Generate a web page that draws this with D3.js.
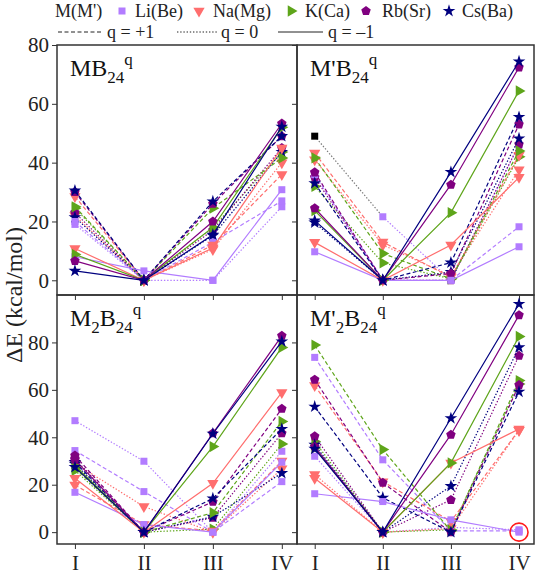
<!DOCTYPE html>
<html>
<head>
<meta charset="utf-8">
<script src="https://cdn.jsdelivr.net/npm/d3@7"></script>
<style>
  body { margin: 0; background: #fff; }
  .axis path, .axis line { stroke: #333; }
  .axis text { font-size: 21px; fill: #222; }
</style>
</head>
<body>
<svg width="538" height="574" font-family="Liberation Serif, Times New Roman, Times, DejaVu Serif, serif"></svg>
<script>
var width = 538;
var height = 574;
var serif = "'Liberation Serif', 'Times New Roman', Times, 'DejaVu Serif', serif";

var sites = ['I', 'II', 'III', 'IV'];
var metals = ['Li(Be)', 'Na(Mg)', 'K(Ca)', 'Rb(Sr)', 'Cs(Ba)'];
var charges = ['q = +1', 'q = 0', 'q = \u20131'];
var yTicks = [0, 20, 40, 60, 80];

// rows: Li +1, 0, -1 | Na +1, 0, -1 | K ... | Rb ... | Cs ...
var mb24 = [
  [20, 0, 13, 27], [19, 0, 0, 25], [8, 3.2, 0, 30.8],
  [28.5, 0, 12, 36], [22, 0, 10.5, 40], [10.8, 0, 11, 45],
  [25, 0, 24.5, 41.6], [24.5, 0, 17.9, 43.6], [8.8, 0, 18, 52],
  [30, 0, 26, 49], [23, 0, 17, 45], [6.6, 0, 20, 53.3],
  [30.5, 0, 26.8, 49], [21.4, 0, 15.2, 43.6], [3.2, 0, 15.5, 52.2]
];
var mpB24 = [
  [35.9, 0, 0, 18.2], [49, 21.6, 0, 46], [9.7, 0, 0, 11.4],
  [43.3, 13, 1, 42.5], [41, 12, 1.5, 37.6], [12.9, 0, 12, 35],
  [41.6, 9.1, 0.5, 44], [31.9, 5.9, 0.5, 42], [23.7, 0, 23, 64.4],
  [36.7, 0, 2.3, 53], [35, 0, 0, 46.2], [24.5, 0, 32.5, 72.4],
  [33, 0, 6, 55.5], [19.6, 0, 2.8, 48.2], [20.3, 0, 36.8, 74.4]
];
var m2B24 = [
  [34.4, 17.1, 0, 21.3], [47, 29.9, 0, 34.1], [16.8, 3.2, 0, 29.5],
  [19.9, 3.2, 0.5, 30], [29, 10.8, 0, 26.7], [22.7, 0, 20.6, 58.9],
  [27, 0, 8.2, 46.7], [26, 0, 1.3, 37.2], [28, 0, 36.1, 77.9],
  [32.3, 0, 12.8, 52], [31, 0, 6.1, 41.7], [30.5, 0, 41.7, 82.8],
  [29.5, 0, 14.2, 43.5], [28.8, 0, 6.5, 24.9], [27.4, 0, 41.5, 80.4]
];
var mp2B24 = [
  [73.7, 30.5, 0.5, 0.5], [32, 0, 2, 1], [16.2, 12.9, 5.2, 0],
  [61.8, 21.3, 4.6, 43], [24.3, 0, 1.5, 43], [22.7, 0, 29.2, 43.5],
  [78.9, 34.8, 0.5, 63.9], [38.2, 0, 1, 62.5], [35.5, 0, 29.2, 82.5],
  [64.3, 20.8, 0, 62], [40.4, 0, 13.6, 74.4], [36, 0, 41.1, 91.5],
  [52.9, 14.5, 0, 59.2], [36.8, 0, 19.4, 77.9], [35.1, 0, 48, 96.2]
];

var colors = ['#b27cff', '#ff6e6e', '#5ea51a', '#800080', '#00007f'];
var dashes = ['4,2.5', '1.4,1.8', null];

var panels = [
  {data: mb24, x0: 57, x1: 297, y0: 45, y1: 295, ymax: 80, label: [['M', 0], ['B', 0], ['24', 1], ['q', 2]], labels: [true, false]},
  {data: mpB24, x0: 297, x1: 534, y0: 45, y1: 295, ymax: 80, label: [["M'", 0], ['B', 0], ['24', 1], ['q', 2]], labels: [false, false]},
  {data: m2B24, x0: 57, x1: 297, y0: 295, y1: 544, ymax: 100, label: [['M', 0], ['2', 1], ['B', 0], ['24', 1], ['q', 2]], labels: [true, true]},
  {data: mp2B24, x0: 297, x1: 534, y0: 295, y1: 544, ymax: 100, label: [["M'", 0], ['2', 1], ['B', 0], ['24', 1], ['q', 2]], labels: [false, true]}
];

var svg = d3.select('svg');

function pentagon(r){
  var pts = d3.range(5).map(function(i){
    var a = -Math.PI / 2 + i * 2 * Math.PI / 5;
    return [r * Math.cos(a), r * Math.sin(a)];
  });
  return 'M' + pts.join('L') + 'Z';
}

function marker(g, m, color){
  if(m === 0) return g.append('rect').attr('x', -3.5).attr('y', -3.5).attr('width', 7).attr('height', 7).attr('fill', color);
  if(m === 1) return g.append('path').attr('d', d3.symbol(d3.symbolTriangle, 55)()).attr('transform', 'rotate(180)').attr('fill', color);
  if(m === 2) return g.append('path').attr('d', d3.symbol(d3.symbolTriangle, 55)()).attr('transform', 'rotate(90)').attr('fill', color);
  if(m === 3) return g.append('path').attr('d', pentagon(5)).attr('fill', color);
  return g.append('path').attr('d', d3.symbol(d3.symbolStar, 50)()).attr('fill', color);
}

panels.forEach(function(p, pi){
  var x = d3.scaleLinear().domain([-0.26, 3.22]).range([p.x0, p.x1]);
  var y = d3.scaleLinear().domain([-5, p.ymax]).range([p.y1, p.y0]);

  var g = svg.append('g');

  var clipId = 'clip' + pi;
  svg.append('clipPath').attr('id', clipId)
    .append('rect').attr('x', p.x0).attr('y', p.y0).attr('width', p.x1 - p.x0).attr('height', p.y1 - p.y0);

  var plot = g.append('g').attr('clip-path', 'url(#' + clipId + ')');

  var line = d3.line().x(function(d, i){ return x(i); }).y(function(d){ return y(d); });

  // draw q=0 first, then q=+1, then q=-1 on top
  [1, 0, 2].forEach(function(q){
    p.data.forEach(function(row, r){
      if(r % 3 !== q) return;
      var m = Math.floor(r / 3);
      var odd = (pi === 1 && r === 1); // black outlier point with grey segment
      if(odd){
        plot.append('path').attr('d', line(row.slice(0, 2)))
          .attr('fill', 'none').attr('stroke', '#777').attr('stroke-width', 1.2)
          .attr('stroke-dasharray', dashes[q]);
        plot.append('path').attr('d', d3.line().x(function(d, i){ return x(i + 1); }).y(function(d){ return y(d); })(row.slice(1)))
          .attr('fill', 'none').attr('stroke', colors[m]).attr('stroke-width', 1.2)
          .attr('stroke-dasharray', dashes[q]);
      } else {
        plot.append('path').attr('d', line(row))
          .attr('fill', 'none').attr('stroke', colors[m]).attr('stroke-width', 1.2)
          .attr('stroke-dasharray', dashes[q]);
      }
      row.forEach(function(v, i){
        var mg = plot.append('g').attr('transform', 'translate(' + x(i) + ',' + y(v) + ')');
        marker(mg, m, (odd && i === 0) ? '#000' : colors[m]);
      });
    });
  });

  var yAxis = d3.axisLeft(y).tickValues(yTicks).tickSize(5).tickSizeOuter(0)
    .tickFormat(p.labels[0] ? d3.format('d') : '');
  var ya = g.append('g').attr('class', 'axis')
    .attr('transform', 'translate(' + p.x0 + ',0)').call(yAxis);
  ya.select('.domain').remove();
  ya.attr('font-family', serif);

  var xAxis = d3.axisBottom(x).tickValues([0, 1, 2, 3]).tickSize(5).tickSizeOuter(0)
    .tickFormat(p.labels[1] ? function(d){ return sites[d]; } : '');
  var xa = g.append('g').attr('class', 'axis')
    .attr('transform', 'translate(0,' + p.y1 + ')').call(xAxis);
  xa.select('.domain').remove();
  xa.attr('font-family', serif);
  xa.selectAll('text').attr('dy', '0.86em');

  g.append('rect')
    .attr('x', p.x0).attr('y', p.y0)
    .attr('width', p.x1 - p.x0).attr('height', p.y1 - p.y0)
    .attr('fill', 'none').attr('stroke', '#333').attr('stroke-width', 1.5);

  // panel title with sub/superscripts
  var t = g.append('text').attr('x', p.x0 + 13).attr('y', p.y0 + 31)
    .attr('font-family', serif)
    .style('font-size', '24px').attr('fill', '#111');
  var level = 0;
  p.label.forEach(function(part){
    var target = part[1];
    var shift = 0;
    if(target !== level){
      var pos = [0, 7, -11];
      shift = pos[target] - pos[level];
      level = target;
    }
    t.append('tspan').attr('dy', shift)
      .style('font-size', target === 0 ? '24px' : '17px')
      .text(part[0]);
  });

  if(pi === 3){
    g.append('circle').attr('cx', x(3)).attr('cy', y(0)).attr('r', 9)
      .attr('fill', 'none').attr('stroke', '#ff1a1a').attr('stroke-width', 1.6);
  }
});

// y axis title
svg.append('text')
  .attr('transform', 'translate(22,' + 295 + ') rotate(-90)')
  .attr('font-family', serif)
  .style('text-anchor', 'middle')
  .style('font-size', '24px')
  .attr('fill', '#222')
  .text('\u0394E (kcal/mol)');

// legend, metals
var legend = svg.append('g').attr('font-family', serif).style('font-size', '18px').attr('fill', '#222');
legend.append('text').attr('x', 55).attr('y', 17).text("M(M')");
var symX = [122, 199, 291, 366, 449];
var txtX = [135, 213, 305, 382, 462];
metals.forEach(function(name, i){
  var mg = legend.append('g').attr('transform', 'translate(' + symX[i] + ',11)');
  marker(mg, i, colors[i]);
  legend.append('text').attr('x', txtX[i]).attr('y', 17).text(name);
});

// legend, charges
var lineX = [[58, 103], [177, 218], [278, 323]];
var qX = [107, 221, 328];
charges.forEach(function(name, i){
  legend.append('line')
    .attr('x1', lineX[i][0]).attr('x2', lineX[i][1]).attr('y1', 32).attr('y2', 32)
    .attr('stroke', '#222').attr('stroke-width', 1)
    .attr('stroke-dasharray', dashes[i]);
  legend.append('text').attr('x', qX[i]).attr('y', 38).text(name);
});
</script>
</body>
</html>
